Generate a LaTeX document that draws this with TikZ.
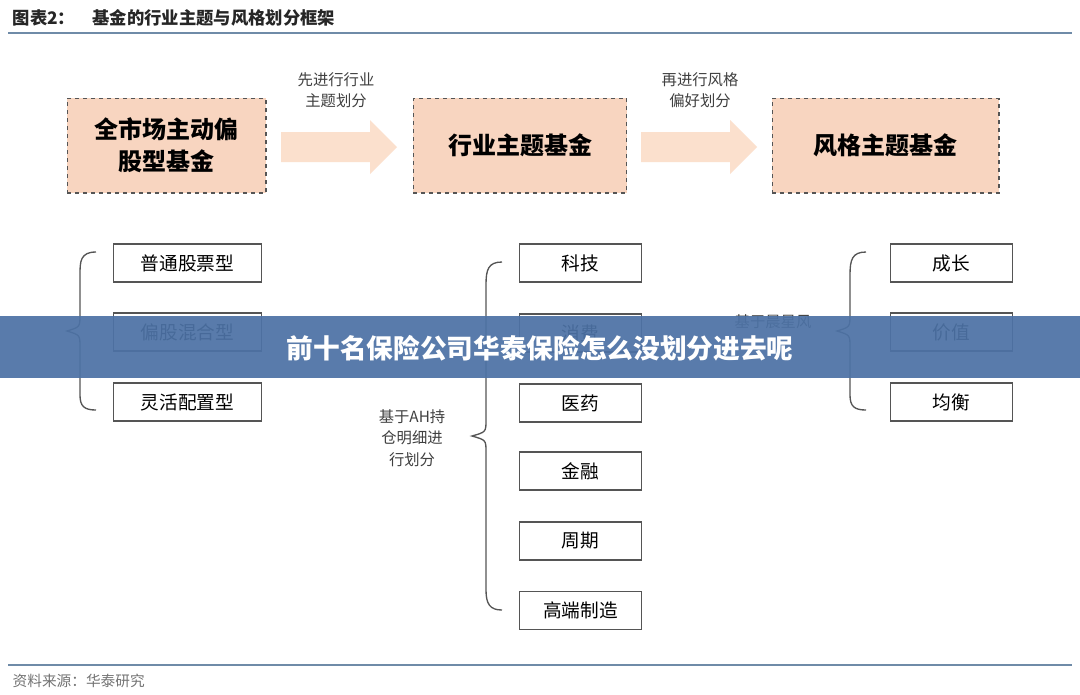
\documentclass[tikz,border=0pt]{standalone}
\usepackage{fontspec}
\setmainfont{Noto Sans CJK SC}
\definecolor{peach}{HTML}{F8D5C0}
\definecolor{lpeach}{HTML}{FBE0CD}
\definecolor{dline}{HTML}{555555}
\definecolor{rule}{HTML}{6F8BA8}
\definecolor{band}{HTML}{4D72A5}
\begin{document}
\begin{tikzpicture}[x=0.75pt,y=-0.75pt,
  big/.style={draw=dline,dashed,line width=1pt,fill=peach,minimum width=150pt,minimum height=71pt,font=\fontsize{18}{24}\selectfont\bfseries,align=center,inner sep=0},
  sm/.style={draw=dline,line width=0.9pt,fill=white,minimum height=28.5pt,font=\fontsize{14}{16}\selectfont,inner sep=0},
  lab/.style={font=\fontsize{11.5}{16}\selectfont,text=black!75,align=center},
  br/.style={draw=dline,line width=1pt},
  fatarrow/.style={fill=lpeach,draw=none}]
\useasboundingbox (0,0) rectangle (1080,694);
\fill[white] (0,0) rectangle (1080,694);
\node[anchor=west,font=\fontsize{13}{15}\selectfont\bfseries,text=black!85] (title) at (8,18) {图表2：\quad 基金的行业主题与风格划分框架};
\draw[rule,line width=1.2pt] (8,33) -- (1072,33);
% top row
\node[big,minimum width=149pt] (b1) at (166.5,145.5) {全市场主动偏\\股型基金};
\node[big,minimum width=160pt] (b2) at (520,145.5) {行业主题基金};
\node[big,minimum width=170pt] (b3) at (885.5,145.5) {风格主题基金};
\fill[fatarrow] (281,132) -- (370,132) -- (370,120) -- (397,147) -- (370,174) -- (370,162) -- (281,162) -- cycle;
\fill[fatarrow] (641,132) -- (730,132) -- (730,120) -- (757,147) -- (730,174) -- (730,162) -- (641,162) -- cycle;
\node[lab] (l1) at (336,90) {先进行行业\\主题划分};
\node[lab] (l2) at (700,90) {再进行风格\\偏好划分};
% left column
\node[sm,minimum width=111pt] (p1) at (187.5,263) {普通股票型};
\node[sm,minimum width=111pt] (p2) at (187.5,332) {偏股混合型};
\node[sm,minimum width=111pt] (p3) at (187.5,402) {灵活配置型};
\draw[br] (96,252) .. controls (80,252) and (80,262) .. (80,275) -- (80,315) .. controls (80,327) .. (67,331) .. controls (80,335) .. (80,347) -- (80,395) .. controls (80,406) and (84,410) .. (96,410);
% middle column
\node[sm,minimum width=92pt] (m1) at (580.5,263) {科技};
\node[sm,minimum width=92pt] (m2) at (580.5,333) {消费};
\node[sm,minimum width=92pt] (m3) at (580.5,403) {医药};
\node[sm,minimum width=92pt] (m4) at (580.5,471) {金融};
\node[sm,minimum width=92pt] (m5) at (580.5,541) {周期};
\node[sm,minimum width=92pt] (m6) at (580.5,610.5) {高端制造};
\draw[br] (502,262) .. controls (488,262) and (486,270) .. (486,285) -- (486,420) .. controls (486,432) .. (472,436) .. controls (486,440) .. (486,452) -- (486,590) .. controls (486,604) and (490,610) .. (502,610);
\node[lab] (l3) at (412,438) {基于AH持\\仓明细进\\行划分};
% right column
\node[sm,minimum width=92pt] (r1) at (951.5,263) {成长};
\node[sm,minimum width=92pt] (r2) at (951.5,332) {价值};
\node[sm,minimum width=92pt] (r3) at (951.5,402) {均衡};
\draw[br] (866,252) .. controls (852,252) and (850,260) .. (850,275) -- (850,315) .. controls (850,327) .. (837,331) .. controls (850,335) .. (850,347) -- (850,395) .. controls (850,406) and (854,410) .. (866,410);
\node[lab] (l4) at (773,322) {基于晨星风};
% bottom
\draw[rule,line width=1pt] (8,665) -- (1072,665);
\node[anchor=west,font=\fontsize{11}{13}\selectfont,text=black!55] (src) at (8,681) {资料来源：华泰研究};
% banner
\fill[band,opacity=0.93] (0,316) rectangle (1080,378);
\node[font=\fontsize{20}{24}\selectfont\bfseries,text=white] (ban) at (540,348) {前十名保险公司华泰保险怎么没划分进去呢};
\end{tikzpicture}
\end{document}
